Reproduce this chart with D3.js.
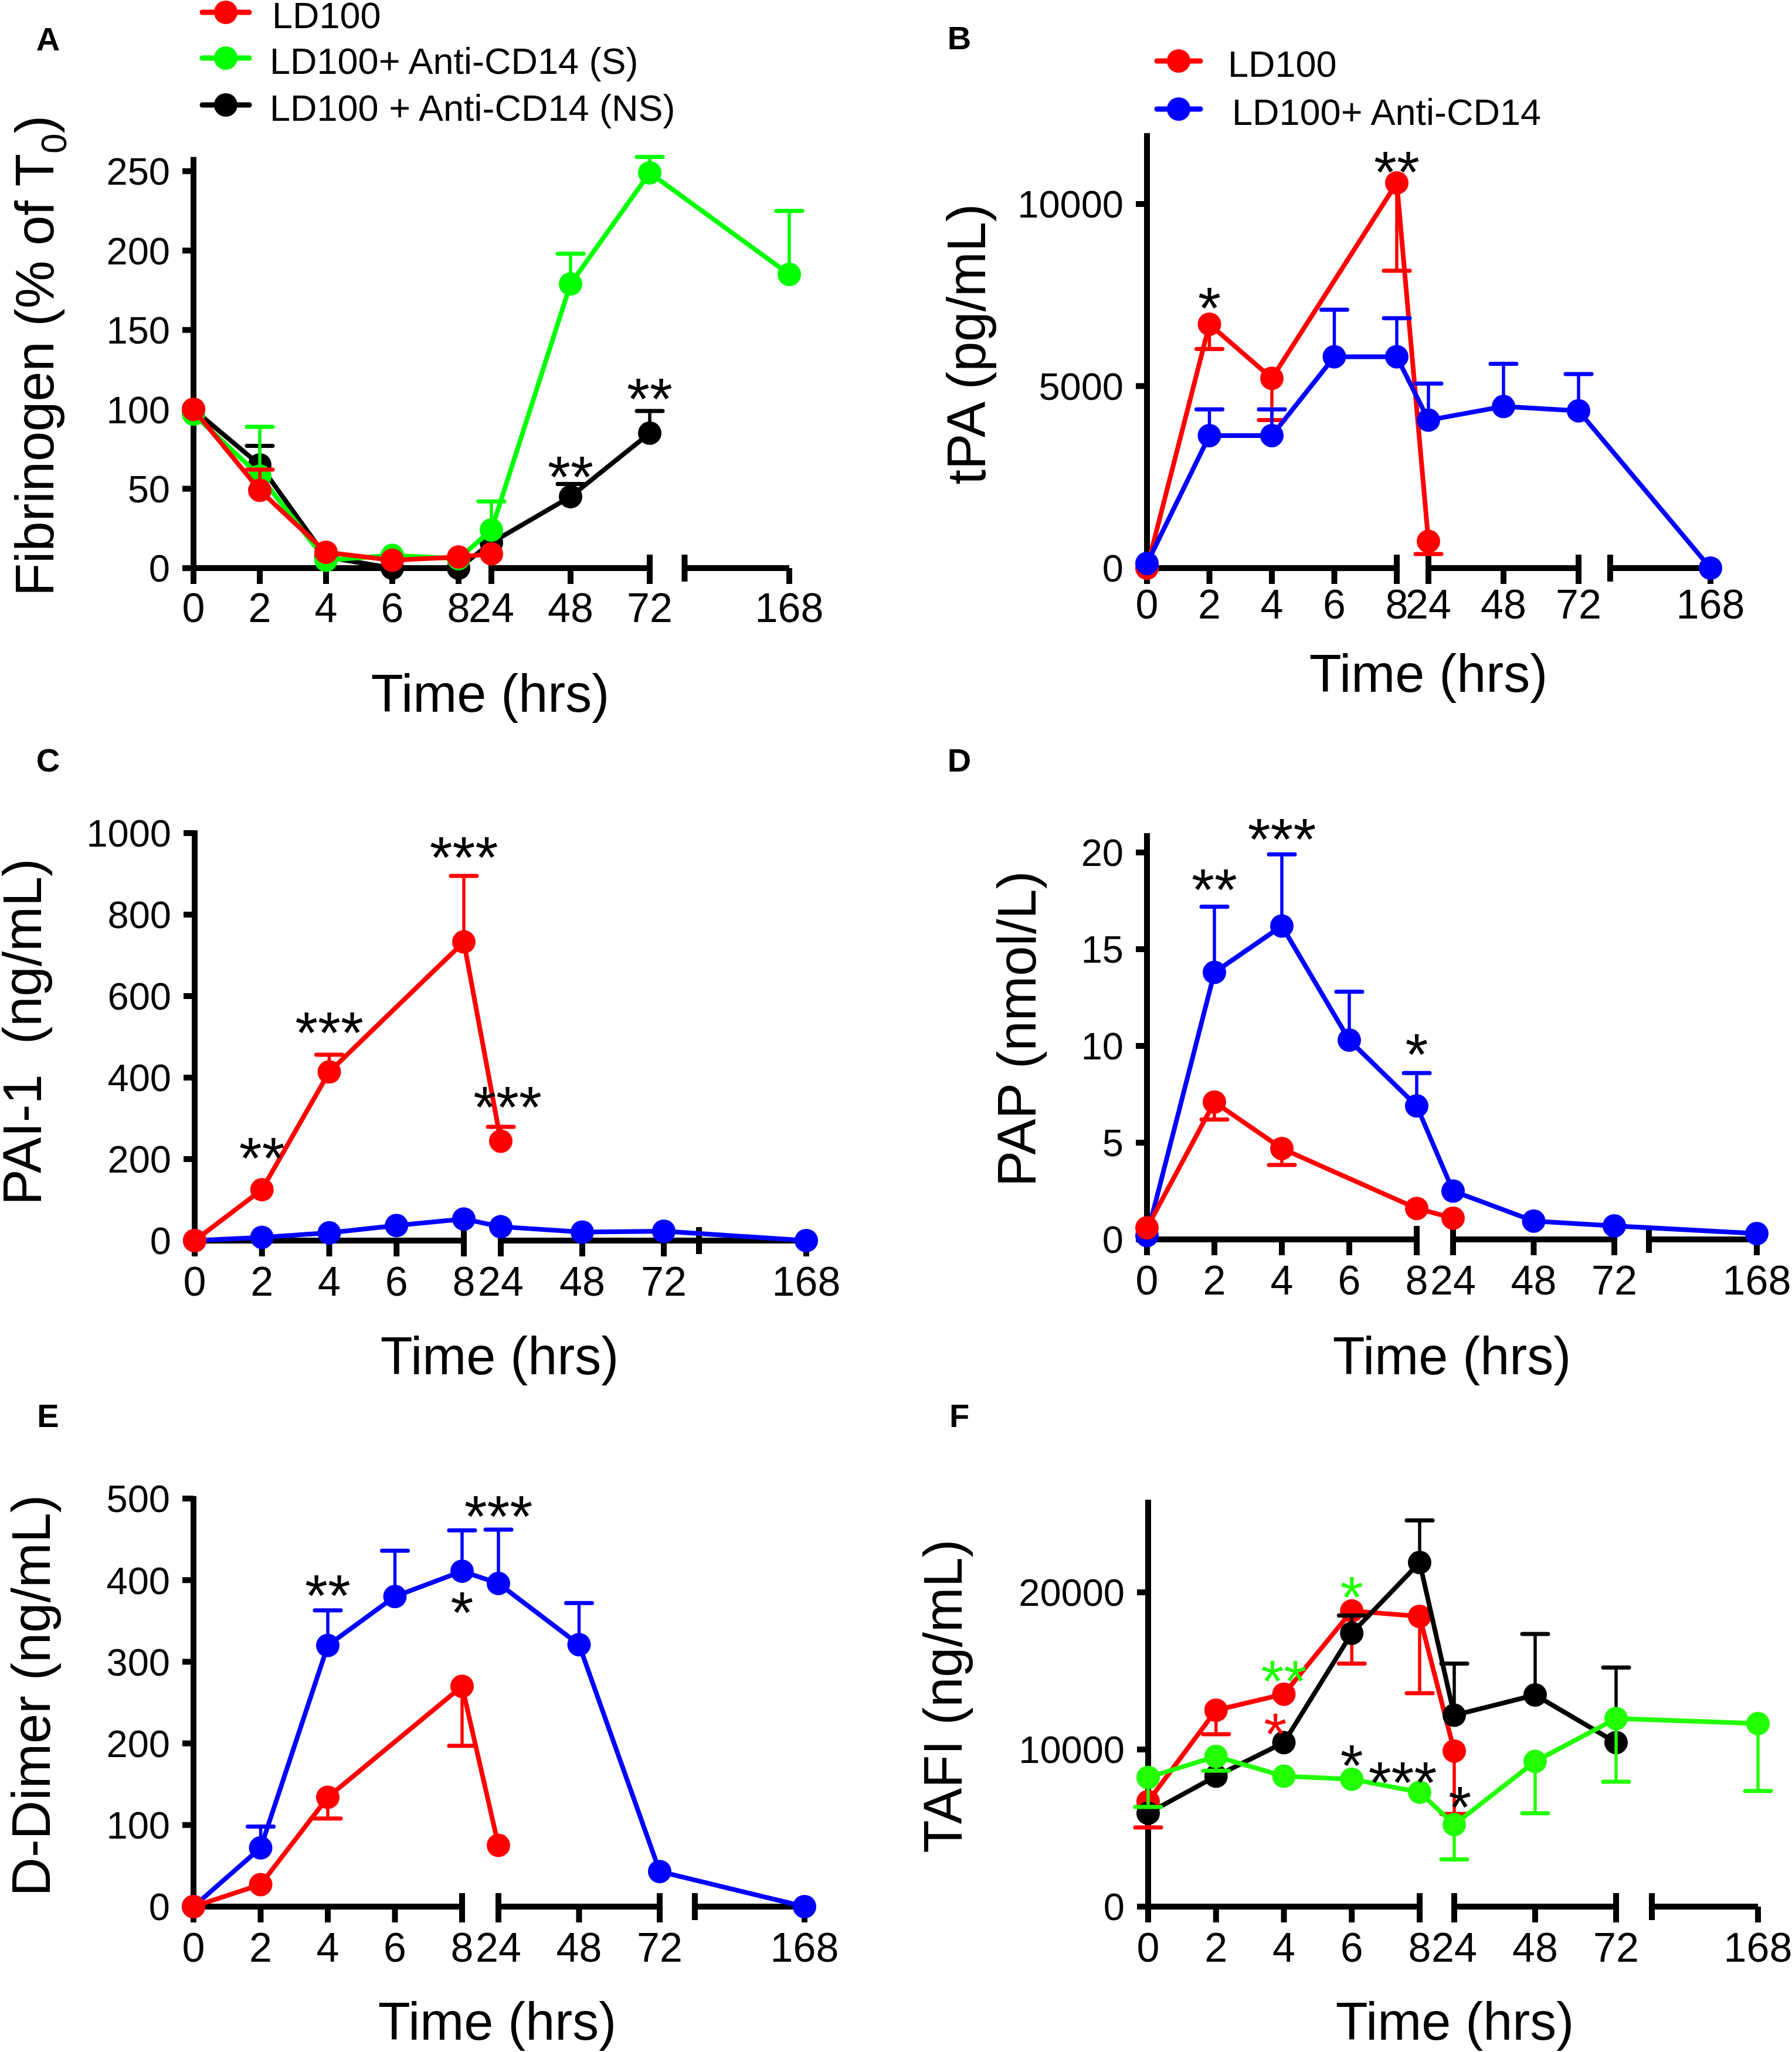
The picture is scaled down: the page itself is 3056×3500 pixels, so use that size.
<!DOCTYPE html>
<html>
<head>
<meta charset="utf-8">
<script src="https://cdn.jsdelivr.net/npm/d3@7"></script>
<style>
  html, body { margin: 0; padding: 0; background: #fff; }
  svg { display: block; }
</style>
</head>
<body>
<script>
// ---------------- DATA ----------------
const timeTicks = [0, 2, 4, 6, 8, 24, 48, 72, 168];
const timeTickLabels = ["0", "2", "4", "6", "8", "24", "48", "72", "168"];

// Panel A : Fibrinogen (% of T0)
const fibTimesLD = [0, 2, 4, 6, 8, 24];
const fibLD      = [100, 49, 10, 5, 7, 9];
const fibLDErr   = [null, 62, null, null, null, null];
const fibTimesS  = [0, 2, 4, 6, 8, 24, 48, 72, 168];
const fibS       = [97, 58, 5, 8, 6, 24, 179, 249, 185];
const fibSErr    = [null, 89, null, null, null, 42, 198, 259, 225];
const fibTimesNS = [0, 2, 4, 6, 8, 24, 48, 72];
const fibNS      = [100, 65, 7, 0, 0, 16, 45, 85];
const fibNSErr   = [null, 77, null, null, null, null, 53, 99];
const fibTicks   = [0, 50, 100, 150, 200, 250];
const fibStarT   = [48, 72];
const fibStarV   = [64, 113];
const fibStarTxt = ["**", "**"];

// Panel B : tPA (pg/mL)
const tpaTimesLD = [0, 2, 4, 8, 24];
const tpaLD      = [0, 6700, 5213, 10580, 735];
const tpaLDErr   = [null, 6020, 4065, 8170, 387];
const tpaTimesAb = [0, 2, 4, 6, 8, 24, 48, 72, 168];
const tpaAb      = [130, 3640, 3640, 5806, 5806, 4065, 4440, 4320, 0];
const tpaAbErr   = [null, 4360, 4360, 7097, 6865, 5070, 5610, 5330, null];
const tpaTicks   = [0, 5000, 10000];
const tpaStarT   = [2, 8];
const tpaStarV   = [7420, 11160];
const tpaStarTxt = ["*", "**"];

// Panel C : PAI-1 (ng/mL)
const paiTimesLD = [0, 2, 4, 8, 24];
const paiLD      = [0, 125, 414, 733, 244];
const paiLDErr   = [null, null, 456, 895, 279];
const paiTimesAb = [0, 2, 4, 6, 8, 24, 48, 72, 168];
const paiAb      = [0, 8, 19, 37, 53, 34, 21, 23, 0];
const paiAbErr   = [null, null, null, null, null, null, null, null, null];
const paiTicks   = [0, 200, 400, 600, 800, 1000];
const paiStarT   = [2, 4, 8, 26];
const paiStarV   = [228, 535, 965, 352];
const paiStarTxt = ["**", "***", "***", "***"];

// Panel D : PAP (nmol/L)
const papTimesLD = [0, 2, 4, 8, 24];
const papLD      = [0.6, 7.1, 4.7, 1.6, 1.1];
const papLDErr   = [null, 6.2, 3.85, null, null];
const papTimesAb = [0, 2, 4, 6, 8, 24, 48, 72, 168];
const papAb      = [0.2, 13.8, 16.2, 10.3, 6.9, 2.5, 0.95, 0.7, 0.3];
const papAbErr   = [null, 17.2, 19.9, 12.8, 8.6, null, null, null, null];
const papTicks   = [0, 5, 10, 15, 20];
const papStarT   = [2, 4, 8];
const papStarV   = [18.6, 21.2, 10.1];
const papStarTxt = ["**", "***", "*"];

// Panel E : D-Dimer (ng/mL)
const ddTimesLD = [0, 2, 4, 8, 24];
const ddLD      = [0, 27, 134, 270, 75];
const ddLDErr   = [null, null, 108, 197, null];
const ddTimesAb = [0, 2, 4, 6, 8, 24, 48, 72, 168];
const ddAb      = [0, 72, 320, 380, 411, 396, 321, 43, 0];
const ddAbErr   = [null, 98, 363, 436, 461, 462, 372, null, null];
const ddTicks   = [0, 100, 200, 300, 400, 500];
const ddStarT   = [4, 24, 8];
const ddStarV   = [394, 491, 373];
const ddStarTxt = ["**", "***", "*"];

// Panel F : TAFI (ng/mL)
const tafiTimesLD = [0, 2, 4, 6, 8, 24];
const tafiLD      = [6690, 12500, 13520, 18820, 18470, 9900];
const tafiLDErr   = [5040, 10970, null, 15470, 13580, 5900];
const tafiTimesNS = [0, 2, 4, 6, 8, 24, 48, 72];
const tafiNS      = [5940, 8300, 10440, 17400, 21900, 12180, 13470, 10440];
const tafiNSErr   = [null, null, null, 18530, 24580, 15470, 17350, 15210];
const tafiTimesS  = [0, 2, 4, 6, 8, 24, 48, 72, 168];
const tafiS       = [8220, 9560, 8300, 8110, 7280, 5220, 9240, 11970, 11650];
const tafiSErr    = [6340, 8650, null, null, null, 3000, 5940, 7950, 7360];
const tafiTicks   = [0, 10000, 20000];
const tafiStarT   = [6, 4, 3.75, 6, 7.5, 25.7];
const tafiStarV   = [20350, 15000, 11650, 9640, 8545, 6980];
const tafiStarTxt = ["*", "**", "*", "*", "***", "*"];
const tafiStarCol = ["greenF", "greenF", "red", "black", "black", "black"];

// ---------------- STYLE ----------------
const FONT = "'Liberation Sans', Arial, Helvetica, sans-serif";
const COL = { red: "#ff0000", green: "#00ff00", greenF: "#22ff00", blue: "#0000ff", black: "#000000" };

const W = 3056, H = 3500;
const svg = d3.select("body").append("svg")
  .attr("width", W).attr("height", H)
  .attr("viewBox", `0 0 ${W} ${H}`)
  .style("font-family", FONT);
svg.append("rect").attr("width", W).attr("height", H).attr("fill", "#fff");

function drawPanel(p) {
  const g = svg.append("g");
  const x = d3.scaleLinear().domain([0, 8, 24, 72, 168]).range(p.xr);
  const y = d3.scaleLinear().domain([0, p.yRefVal]).range([p.y0, p.yRefPx]);
  const ax = p.xr[0];
  const y0 = y(0);

  // panel letter
  g.append("text").attr("x", p.letterPos[0]).attr("y", p.letterPos[1])
    .attr("text-anchor", "middle").attr("font-weight", "bold").attr("font-size", 56)
    .text(p.letter);

  // y axis
  g.append("line").attr("x1", ax).attr("x2", ax).attr("y1", y(p.yMax)).attr("y2", y0 + 5)
    .attr("stroke", "#000").attr("stroke-width", 10);
  p.yTicks.forEach(v => {
    g.append("line").attr("x1", ax - 19).attr("x2", ax).attr("y1", y(v)).attr("y2", y(v))
      .attr("stroke", "#000").attr("stroke-width", 10);
    g.append("text").attr("x", ax - 40).attr("y", y(v)).attr("dy", "0.36em")
      .attr("text-anchor", "end").attr("font-size", 65).text(d3.format("d")(v));
  });

  // x axis segments (broken axis)
  p.segs.forEach(([a, b]) => {
    g.append("line").attr("x1", x(a)).attr("x2", x(b)).attr("y1", y0).attr("y2", y0)
      .attr("stroke", "#000").attr("stroke-width", 10);
  });
  timeTicks.forEach((t, i) => {
    g.append("line").attr("x1", x(t)).attr("x2", x(t)).attr("y1", y0).attr("y2", y0 + 27)
      .attr("stroke", "#000").attr("stroke-width", 10);
    g.append("text").attr("x", x(t)).attr("y", y0 + p.xlabOff)
      .attr("text-anchor", "middle").attr("font-size", 70).text(timeTickLabels[i]);
  });
  p.tall.forEach(t => {
    g.append("line").attr("x1", x(t)).attr("x2", x(t)).attr("y1", y0 - 23).attr("y2", y0 + 23)
      .attr("stroke", "#000").attr("stroke-width", 10);
  });

  // axis titles
  g.append("text").attr("x", p.xTitle[0]).attr("y", p.xTitle[1])
    .attr("text-anchor", "middle").attr("font-size", 90).text("Time (hrs)");
  const yt = g.append("text")
    .attr("transform", `translate(${p.yTitle[0]},${p.yTitle[1]}) rotate(-90)`)
    .attr("text-anchor", "middle").attr("font-size", 92)
    .style("white-space", "pre");
  if (p.yTitleSub) {
    yt.append("tspan").text(p.yTitleText);
    yt.append("tspan").attr("font-size", 62).attr("dy", 22).text(p.yTitleSub);
    yt.append("tspan").attr("dy", -22).text(")");
  } else {
    yt.text(p.yTitleText);
  }

  // series
  p.series.forEach(s => {
    const sg = g.append("g");
    s.t.forEach((t, i) => {
      const e = s.e ? s.e[i] : null;
      if (e == null) return;
      sg.append("line").attr("x1", x(t)).attr("x2", x(t)).attr("y1", y(s.v[i])).attr("y2", y(e))
        .attr("stroke", s.c).attr("stroke-width", 5.5);
      sg.append("line").attr("x1", x(t) - 22).attr("x2", x(t) + 22).attr("y1", y(e)).attr("y2", y(e))
        .attr("stroke", s.c).attr("stroke-width", 7).attr("stroke-linecap", "round");
    });
    sg.append("path").datum(s.t.map((t, i) => [t, s.v[i]]))
      .attr("d", d3.line().x(d => x(d[0])).y(d => y(d[1])))
      .attr("fill", "none").attr("stroke", s.c).attr("stroke-width", 8)
      .attr("stroke-linejoin", "round");
    sg.selectAll("circle").data(s.t.map((t, i) => [t, s.v[i]])).join("circle")
      .attr("cx", d => x(d[0])).attr("cy", d => y(d[1])).attr("r", 20).attr("fill", s.c);
  });

  // significance stars
  p.stars.t.forEach((t, i) => {
    g.append("text").attr("x", x(t)).attr("y", y(p.stars.v[i]) + 52)
      .attr("text-anchor", "middle").attr("font-size", 100)
      .attr("fill", p.stars.c ? COL[p.stars.c[i]] : "#000")
      .text(p.stars.txt[i]);
  });

  // legend
  if (p.legend) {
    p.legend.rows.forEach(r => {
      const cy = r.y;
      g.append("line").attr("x1", p.legend.lx1).attr("x2", p.legend.lx2).attr("y1", cy).attr("y2", cy)
        .attr("stroke", r.c).attr("stroke-width", 9).attr("stroke-linecap", "round");
      g.append("circle").attr("cx", (p.legend.lx1 + p.legend.lx2) / 2).attr("cy", cy).attr("r", 20).attr("fill", r.c);
      g.append("text").attr("x", r.tx).attr("y", cy + 27).attr("font-size", 63).text(r.label);
    });
  }
}

const panels = [
  { letter: "A", letterPos: [82, 86], xr: [330, 782, 838, 1108, 1346], y0: 969, yRefVal: 250, yRefPx: 292, yMax: 259,
    yTicks: fibTicks, segs: [[0, 8], [24, 72], [96, 168]], tall: [8, 24, 72, 96], xlabOff: 92,
    xTitle: [836, 1214], yTitle: [91, 607], yTitleText: "Fibrinogen (% of T", yTitleSub: "0",
    series: [
      { t: fibTimesNS, v: fibNS, e: fibNSErr, c: COL.black },
      { t: fibTimesS, v: fibS, e: fibSErr, c: COL.green },
      { t: fibTimesLD, v: fibLD, e: fibLDErr, c: COL.red }
    ],
    stars: { t: fibStarT, v: fibStarV, txt: fibStarTxt },
    legend: { lx1: 345, lx2: 425, rows: [
      { y: 21, c: COL.red, label: "LD100", tx: 464 },
      { y: 99, c: COL.green, label: "LD100+ Anti-CD14 (S)", tx: 460 },
      { y: 179, c: COL.black, label: "LD100 + Anti-CD14 (NS)", tx: 460 }
    ] } },
  { letter: "B", letterPos: [1636, 84], xr: [1956, 2382, 2436, 2692, 2917], y0: 969, yRefVal: 10000, yRefPx: 348, yMax: 11950,
    yTicks: tpaTicks, segs: [[0, 8], [24, 72], [95, 168]], tall: [8, 24, 72, 95], xlabOff: 86,
    xTitle: [2436, 1180], yTitle: [1680, 587], yTitleText: "tPA (pg/mL)",
    series: [
      { t: tpaTimesLD, v: tpaLD, e: tpaLDErr, c: COL.red },
      { t: tpaTimesAb, v: tpaAb, e: tpaAbErr, c: COL.blue }
    ],
    stars: { t: tpaStarT, v: tpaStarV, txt: tpaStarTxt },
    legend: { lx1: 1973, lx2: 2047, rows: [
      { y: 104, c: COL.red, label: "LD100", tx: 2094 },
      { y: 186, c: COL.blue, label: "LD100+ Anti-CD14", tx: 2101 }
    ] } },
  { letter: "C", letterPos: [82, 1316], xr: [332, 791, 854, 1132, 1375], y0: 2116, yRefVal: 1000, yRefPx: 1421, yMax: 1007,
    yTicks: paiTicks, segs: [[0, 8], [24, 168]], tall: [8, 24, 95.7], xlabOff: 94,
    xTitle: [852, 2344], yTitle: [70, 1760], yTitleText: "PAI-1  (ng/mL)",
    series: [
      { t: paiTimesAb, v: paiAb, e: paiAbErr, c: COL.blue },
      { t: paiTimesLD, v: paiLD, e: paiLDErr, c: COL.red }
    ],
    stars: { t: paiStarT, v: paiStarV, txt: paiStarTxt } },
  { letter: "D", letterPos: [1636, 1316], xr: [1956, 2416, 2478, 2753, 2996], y0: 2114, yRefVal: 20, yRefPx: 1454, yMax: 21,
    yTicks: papTicks, segs: [[0, 8], [24, 72], [95.3, 168]], tall: [8, 24, 72, 95.3], xlabOff: 94,
    xTitle: [2476, 2344], yTitle: [1766, 1755], yTitleText: "PAP (nmol/L)",
    series: [
      { t: papTimesAb, v: papAb, e: papAbErr, c: COL.blue },
      { t: papTimesLD, v: papLD, e: papLDErr, c: COL.red }
    ],
    stars: { t: papStarT, v: papStarV, txt: papStarTxt } },
  { letter: "E", letterPos: [82, 2434], xr: [330, 788, 850, 1125, 1372], y0: 3252, yRefVal: 500, yRefPx: 2556, yMax: 503,
    yTicks: ddTicks, segs: [[0, 8], [24, 72], [95.3, 168]], tall: [8, 24, 72, 95.3], xlabOff: 94,
    xTitle: [848, 3479], yTitle: [85, 2892], yTitleText: "D-Dimer (ng/mL)",
    series: [
      { t: ddTimesAb, v: ddAb, e: ddAbErr, c: COL.blue },
      { t: ddTimesLD, v: ddLD, e: ddLDErr, c: COL.red }
    ],
    stars: { t: ddStarT, v: ddStarV, txt: ddStarTxt } },
  { letter: "F", letterPos: [1636, 2434], xr: [1958, 2421, 2480, 2756, 2998], y0: 3252, yRefVal: 20000, yRefPx: 2716, yMax: 25900,
    yTicks: tafiTicks, segs: [[0, 8], [24, 72], [96.2, 168]], tall: [8, 24, 72, 96.2], xlabOff: 94,
    xTitle: [2481, 3479], yTitle: [1640, 2893], yTitleText: "TAFI (ng/mL)",
    series: [
      { t: tafiTimesLD, v: tafiLD, e: tafiLDErr, c: COL.red },
      { t: tafiTimesNS, v: tafiNS, e: tafiNSErr, c: COL.black },
      { t: tafiTimesS, v: tafiS, e: tafiSErr, c: COL.greenF }
    ],
    stars: { t: tafiStarT, v: tafiStarV, txt: tafiStarTxt, c: tafiStarCol } }
];

panels.forEach(drawPanel);
</script>
</body>
</html>
